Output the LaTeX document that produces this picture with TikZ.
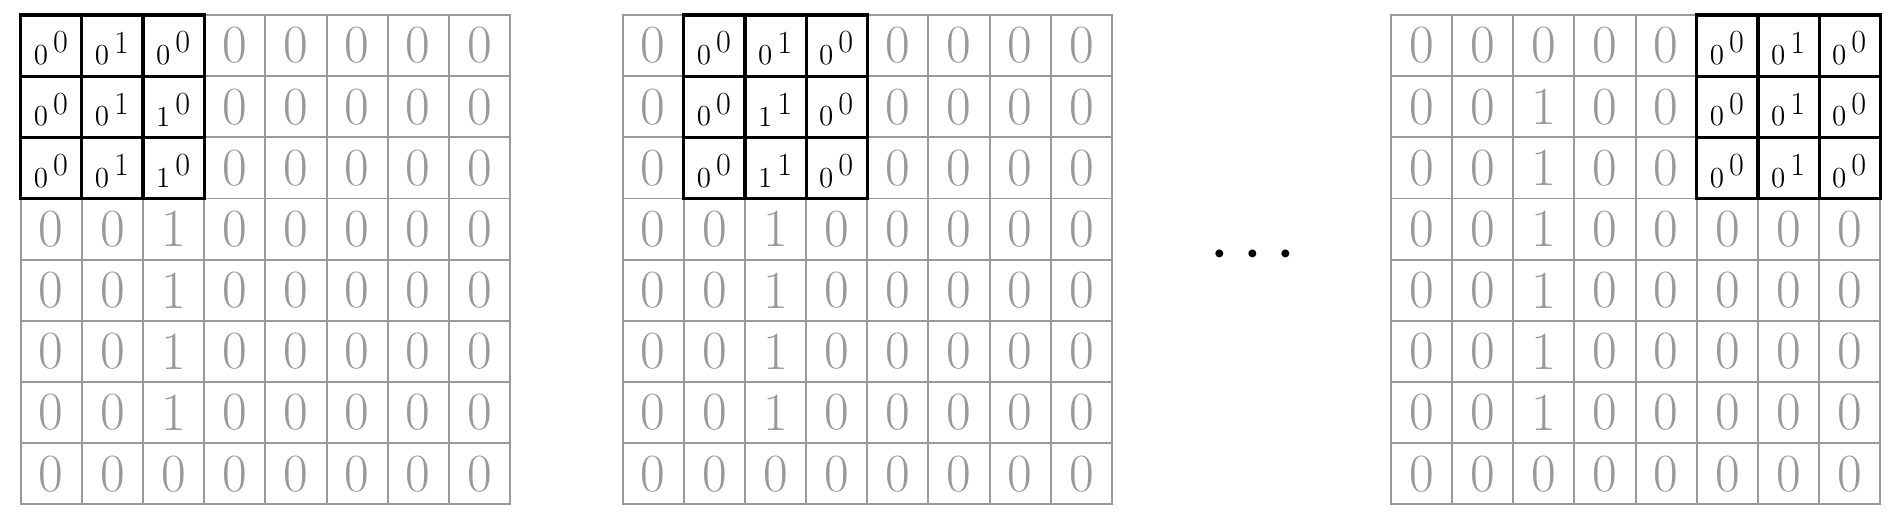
\documentclass[tikz,border=0pt]{standalone}
\usepackage{fontspec}
\tikzset{
  cell/.style={draw=gray!80, line width=0.9pt, minimum size=1cm, inner sep=0pt,
    text=gray!80, font=\fontsize{25}{30}\selectfont},
  kcell/.style={draw=black, fill=white, line width=1.5pt, minimum size=1cm, inner sep=0pt},
  imgval/.style={inner sep=0pt, font=\fontsize{13.5}{15}\selectfont},
  kerval/.style={inner sep=0pt, font=\fontsize{15}{18}\selectfont}
}
\begin{document}
\begin{tikzpicture}
      \useasboundingbox (-0.338,0.245) rectangle (30.69,-8.29);
      % image grids: column 2 holds ones in rows 1..6
      \foreach \g/\ox in {1/0, 2/9.84, 3/22.4} {
        \foreach \r in {0,...,7} {
          \foreach \c in {0,...,7} {
            \pgfmathtruncatemacro\val{and(\c==2, and(\r>0, \r<7))}
            \node[cell] (g\g-\r-\c) at (\ox+\c+0.5, -\r-0.5) {\val};
          }
        }
      }
      % kernel windows
      \foreach \g/\kc in {1/0, 2/1, 3/5} {
        \foreach \r in {0,1,2} {
          \foreach \i in {0,1,2} {
            \pgfmathtruncatemacro\c{\kc+\i}
            \pgfmathtruncatemacro\val{and(\c==2, \r>0)}
            \pgfmathtruncatemacro\wt{\i==1}
            \node[kcell] (k\g-\r-\c) at (g\g-\r-\c) {};
            \node[imgval] at ([shift={(-0.17,-0.16)}]k\g-\r-\c.center) {\val};
            \node[kerval] at ([shift={(0.15,0.05)}]k\g-\r-\c.center) {\wt};
          }
        }
      }
      \node[anchor=base, inner sep=0pt, scale=1.39, font=\fontsize{24.88}{30}\selectfont] (dots) at (20.14,-4.21) {$\cdots$};
    \end{tikzpicture}
\end{document}
